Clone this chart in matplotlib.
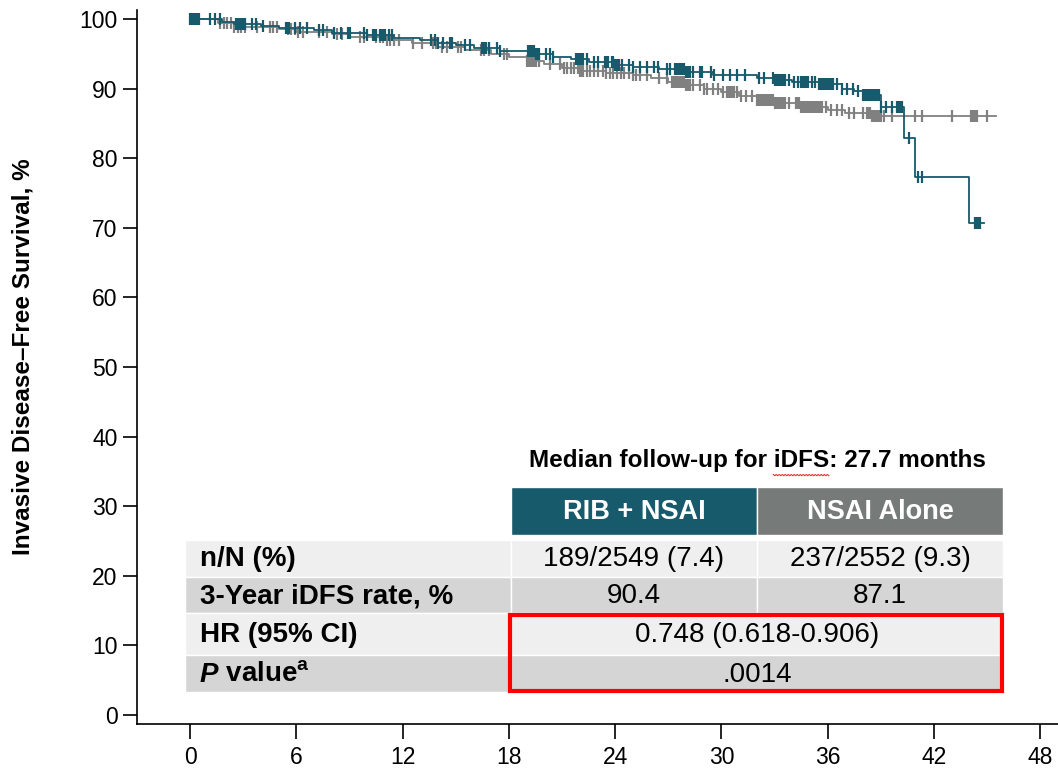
import numpy as np
import matplotlib
matplotlib.use('Agg')
import matplotlib.pyplot as plt
from matplotlib.patches import Rectangle

plt.rcParams['font.family'] = ['Liberation Sans', 'DejaVu Sans']
plt.rcParams['mathtext.fontset'] = 'custom'
plt.rcParams['mathtext.rm'] = 'Liberation Sans'
plt.rcParams['mathtext.bf'] = 'Liberation Sans:bold'

# ---------------- KM curves (months, % event free)
rib_t = [0, 1.8, 2.5, 4.0, 5.0, 7.0, 8.0, 10.0, 11.5, 13.0, 14.0, 15.0, 16.0, 17.5,
         19.5, 20.5, 21.5, 22.5, 24.0, 25.0, 26.5, 28.0, 29.5, 32.0, 33.0, 34.0,
         35.5, 36.8, 37.5, 38.0, 39.0, 40.3, 40.9, 44.0]
rib_s = [100, 99.6, 99.3, 99.0, 98.7, 98.4, 98.0, 97.7, 97.3, 97.0, 96.5, 96.2, 95.8, 95.4,
         95.0, 94.6, 94.2, 93.8, 93.4, 93.1, 92.8, 92.4, 92.0, 91.6, 91.3, 90.9,
         90.6, 90.0, 89.6, 89.1, 87.4, 82.9, 77.3, 70.7]
rib_end = 44.8
rib_cens = [0.0, 0.1, 0.2, 0.3, 0.4, 0.5, 1.1, 1.4, 1.7, 2.6, 2.7, 2.8, 2.9, 3.0, 3.1,
            3.5, 3.7, 4.1, 5.4, 5.5, 5.6, 5.9, 6.2, 6.6, 7.3, 7.5, 8.1, 8.5, 8.9, 9.0,
            9.8, 10.0, 10.3, 10.4, 10.5, 10.7, 10.8, 10.9, 11.0, 11.2, 11.4,
            13.6, 13.8, 14.0, 14.3, 14.7, 14.8, 15.5, 15.8, 16.5, 16.6, 16.7, 16.9,
            17.3, 17.5, 19.1, 19.2, 19.3, 19.4, 19.5, 19.6, 19.7, 20.1, 20.3, 20.5,
            21.8, 21.9, 22.0, 22.1, 22.2, 22.4, 22.8, 23.0, 23.4, 23.5, 23.6, 23.8,
            23.9, 24.0, 24.1, 24.2, 24.4, 24.8, 25.0, 25.4, 25.8, 26.2, 26.4, 26.9,
            27.1, 27.4, 27.5, 27.6, 27.7, 27.8, 27.9, 28.0, 28.1, 28.2, 28.4, 28.8,
            28.9, 29.4, 29.6, 30.1, 30.5, 30.9, 31.3, 32.1, 32.4, 32.9, 33.0, 33.1,
            33.2, 33.3, 33.4, 33.5, 33.6, 33.8, 34.1, 34.3, 34.5, 34.6, 34.7, 34.8,
            34.9, 35.1, 35.3, 35.5, 35.6, 35.7, 35.8, 35.9, 36.0, 36.1, 36.2, 36.3,
            36.5, 36.8, 37.1, 37.4, 37.7, 38.0, 38.1, 38.2, 38.3, 38.4, 38.5, 38.6,
            38.7, 38.8, 38.9, 39.0, 39.3, 39.6, 39.9, 40.0, 40.1, 40.2, 40.6, 41.1,
            41.3, 44.3, 44.4, 44.5, 44.6]

nsai_t = [0, 1.6, 2.5, 5.0, 6.0, 8.0, 9.0, 11.0, 12.5, 14.0, 15.5, 17.0, 18.0, 19.0,
          20.0, 21.0, 22.0, 23.5, 25.0, 26.0, 27.0, 28.0, 29.0, 30.0, 31.0, 32.0,
          33.0, 34.5, 36.0, 37.0, 38.5]
nsai_s = [100, 99.5, 98.9, 98.5, 98.2, 97.8, 97.4, 97.0, 96.5, 96.0, 95.5, 95.0, 94.5, 94.0,
          93.6, 93.0, 92.6, 92.2, 92.0, 91.5, 91.0, 90.5, 90.0, 89.5, 89.0, 88.4,
          88.0, 87.4, 86.9, 86.5, 86.1]
nsai_end = 45.5
nsai_cens = [1.7, 1.9, 2.1, 2.3, 2.5, 2.7, 2.9, 3.1, 3.8, 4.5, 4.7, 4.9, 5.5, 5.7,
             5.9, 6.1, 6.4, 7.3, 7.7, 8.3, 8.6, 9.6, 9.8, 10.5, 10.7, 10.9, 11.1,
             11.3, 11.5, 11.8, 12.6, 13.1, 13.7, 13.9, 14.2, 14.5, 15.1, 15.3, 16.4,
             16.6, 16.9, 17.7, 17.9, 19.0, 19.1, 19.2, 19.3, 19.4, 19.5, 19.7, 20.3,
             20.9, 21.1, 21.3, 21.5, 21.7, 21.9, 22.0, 22.1, 22.2, 22.4, 22.6, 22.8,
             23.0, 23.3, 23.5, 23.7, 23.9, 24.1, 24.3, 24.5, 24.8, 25.0, 25.2, 25.4,
             25.8, 26.5, 26.9, 27.2, 27.3, 27.4, 27.5, 27.6, 27.7, 27.8, 27.9, 28.0,
             28.1, 28.2, 28.4, 28.8, 29.0, 29.2, 29.5, 29.8, 30.1, 30.3, 30.4, 30.5,
             30.6, 30.7, 30.9, 31.1, 31.4, 31.7, 32.0, 32.1, 32.2, 32.3, 32.4, 32.5,
             32.6, 32.7, 32.8, 32.9, 33.0, 33.1, 33.2, 33.3, 33.4, 33.5, 33.6, 33.8,
             34.2, 34.3, 34.4, 34.5, 34.6, 34.7, 34.8, 34.9, 35.0, 35.1, 35.2, 35.3,
             35.4, 35.5, 35.6, 35.7, 35.9, 36.2, 36.5, 36.8, 37.2, 37.5, 38.0, 38.2,
             38.3, 38.4, 38.5, 38.6, 38.7, 38.8, 38.9, 39.0, 39.2, 39.6, 40.9, 41.3,
             43.0, 44.1, 44.2, 44.3, 44.4, 45.0]

# ---------------- table text
follow_up = 'Median follow-up for iDFS: 27.7 months'
col_heads = ['RIB + NSAI', 'NSAI Alone']
row_labels = ['n/N (%)', '3-Year iDFS rate, %', 'HR (95% CI)']
rib_vals = ['189/2549 (7.4)', '90.4']
nsai_vals = ['237/2552 (9.3)', '87.1']
hr_text = '0.748 (0.618-0.906)'
p_text = '.0014'

teal = '#175a6b'
grey = '#808080'
head_grey = '#767a79'
light = '#efefef'
dark = '#d5d5d5'


def km_line(ax, t, s, end, cens, color):
    t = np.array(t)
    s = np.array(s)
    ax.step(np.append(t, end), np.append(s, s[-1]), where='post', color=color, lw=1.3)
    idx = np.searchsorted(t, cens, side='right') - 1
    ax.plot(cens, s[idx], ls='none', marker='|', ms=8.5, mew=1.6, color=color)


fig = plt.figure(figsize=(10.58, 7.72), dpi=100)
W, H = 1058, 772
ax = fig.add_axes([137 / W, 48 / H, 921 / W, 714 / H])

km_line(ax, nsai_t, nsai_s, nsai_end, nsai_cens, grey)
km_line(ax, rib_t, rib_s, rib_end, rib_cens, teal)

ax.set_xlim(-3.0, 49.0)
ax.set_ylim(-1.3, 101.3)
ax.set_xticks(range(0, 49, 6))
ax.set_yticks(range(0, 101, 10))
ax.spines['top'].set_visible(False)
ax.spines['right'].set_visible(False)
ax.spines['left'].set_linewidth(1.2)
ax.spines['bottom'].set_linewidth(1.2)
ax.tick_params(axis='y', length=10, width=1.2, labelsize=16.5, pad=4)
ax.tick_params(axis='x', length=11, width=1.2, labelsize=16.5, pad=5)

fig.text(23 / W, 1 - 357 / H, 'Invasive Disease\u2013Free Survival, %', rotation=90,
         ha='center', va='center', fontsize=17.5, fontweight='bold')

# ---------------- summary table, laid out in pixel space
tb = fig.add_axes([0, 0, 1, 1], zorder=5)
tb.set_xlim(0, W)
tb.set_ylim(H, 0)
tb.axis('off')

lab_x0, c1_x0, c2_x0, c_x1 = 185, 511, 757, 1003
rows_y = [(540, 577), (577, 613), (613, 655), (655, 692)]
row_bg = [light, dark, light, dark]

title = tb.text((c1_x0 + c_x1) / 2, 461, follow_up, ha='center', va='center',
                fontsize=17.5, fontweight='bold')

for x0, x1, lab, bg in [(c1_x0, c2_x0, col_heads[0], teal), (c2_x0, c_x1, col_heads[1], head_grey)]:
    tb.add_patch(Rectangle((x0, 487), x1 - x0, 48, facecolor=bg, edgecolor='white', lw=1))
    tb.text((x0 + x1) / 2, 512, lab, ha='center', va='center', color='white',
            fontsize=19.5, fontweight='bold')

for i, (y0, y1) in enumerate(rows_y):
    tb.add_patch(Rectangle((lab_x0, y0), c1_x0 - lab_x0, y1 - y0, facecolor=row_bg[i],
                           edgecolor='white', lw=1))
    if i < 2:
        cells = [(c1_x0, c2_x0, rib_vals[i]), (c2_x0, c_x1, nsai_vals[i])]
    else:
        cells = [(c1_x0, c_x1, hr_text if i == 2 else p_text)]
    for x0, x1, val in cells:
        tb.add_patch(Rectangle((x0, y0), x1 - x0, y1 - y0, facecolor=row_bg[i],
                               edgecolor='white', lw=1))
        tb.text((x0 + x1) / 2, (y0 + y1) / 2 + 1, val, ha='center', va='center', fontsize=20)
    if i < 3:
        tb.text(200, (y0 + y1) / 2 + 1, row_labels[i], ha='left', va='center',
                fontsize=20, fontweight='bold')

# "P value" with italic P and superscript a
y_p = (rows_y[3][0] + rows_y[3][1]) / 2 + 1
tp = tb.text(200, y_p, 'P', ha='left', va='center', fontsize=20, fontweight='bold', style='italic')
tb.annotate(' value$^{\\mathbf{a}}$', xy=(1, 0), xycoords=tp, ha='left', va='bottom',
            fontsize=20, fontweight='bold')

# highlight box round HR and P value
tb.add_patch(Rectangle((510, 615), 491.5, 75.5, facecolor='none', edgecolor='#ff0000', lw=3))

# red spell-check squiggle under "iDFS" in the follow-up line
fig.canvas.draw()
rend = fig.canvas.get_renderer()


def text_width(s):
    t = tb.text(0, 0, s, fontsize=17.5, fontweight='bold')
    w = t.get_window_extent(rend).width
    t.remove()
    return w


tbox = title.get_window_extent(rend)
word_end = tbox.x0 + text_width('Median follow-up for iDFS')
word_start = word_end - text_width('iDFS')
sq_x = np.arange(word_start, word_end + 0.1, 1.5)
sq_y = H - tbox.y0 + 2 + 1.2 * (np.arange(len(sq_x)) % 2)
tb.plot(sq_x, sq_y, color='#e8302a', lw=0.8)

fig.savefig('out.png', dpi=100)
